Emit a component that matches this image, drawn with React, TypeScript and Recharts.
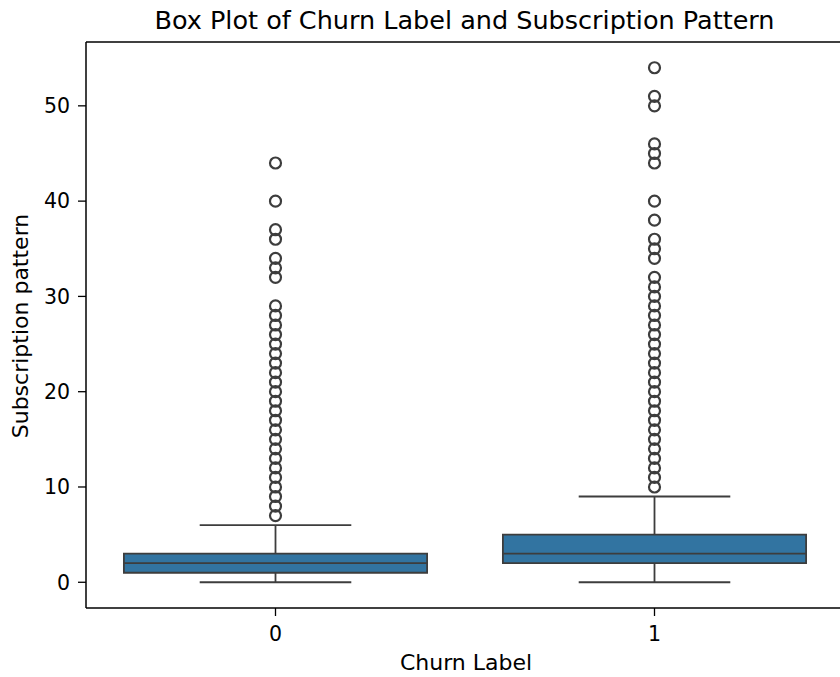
import React from 'react';
import {
  ComposedChart,
  Scatter,
  XAxis,
  YAxis,
  ReferenceArea,
  ReferenceLine,
} from 'recharts';

// Churn label categories and the box statistics per category
const categories = [0, 1];
const whiskerLow = [0, 0];
const q1 = [1, 2];
const median = [2, 3];
const q3 = [3, 5];
const whiskerHigh = [6, 9];

// Outlier values (beyond 1.5 IQR) per category
const outliers0 = [
  7, 8, 9, 10, 11, 12, 13, 14, 15, 16, 17, 18, 19, 20, 21, 22, 23, 24, 25, 26, 27, 28, 29,
  32, 33, 34, 36, 37, 40, 44,
];
const outliers1 = [
  10, 11, 12, 13, 14, 15, 16, 17, 18, 19, 20, 21, 22, 23, 24, 25, 26, 27, 28, 29, 30, 31, 32,
  34, 35, 36, 38, 40, 44, 45, 46, 50, 51, 54,
];

const yTicks = [0, 10, 20, 30, 40, 50];
const yDomain: [number, number] = [-2.7, 56.7];
const xDomain: [number, number] = [-0.5, 1.5];

const BOX_FILL = '#3274a1';
const LINE = '#3d3d3d';
const FONT = '"DejaVu Sans", sans-serif';
const LW = 1.8;

const outlierPoints = [
  ...outliers0.map((v) => ({ x: categories[0], y: v })),
  ...outliers1.map((v) => ({ x: categories[1], y: v })),
];

const HollowCircle = (props: any) => {
  const { cx, cy } = props;
  if (cx == null || cy == null) return null;
  return <circle cx={cx} cy={cy} r={5.5} fill="none" stroke={LINE} strokeWidth={2.2} />;
};

const tickStyle = { fill: '#000', fontSize: 20.5, fontFamily: FONT };

export default function App() {
  return (
    <div
      style={{
        position: 'fixed',
        left: 0,
        top: 0,
        width: 840,
        height: 677,
        overflow: 'hidden',
        background: '#fff',
        fontFamily: FONT,
      }}
    >
      <ComposedChart
        width={850}
        height={677}
        margin={{ top: 42, right: 6, bottom: 0, left: 0 }}
      >
        <XAxis
          type="number"
          dataKey="x"
          domain={xDomain}
          ticks={categories}
          allowDataOverflow
          height={69}
          tickSize={8}
          tickMargin={10}
          tick={tickStyle}
          tickLine={{ stroke: '#000', strokeWidth: 1.3 }}
          axisLine={{ stroke: '#000', strokeWidth: 1.5 }}
        />
        <YAxis
          type="number"
          dataKey="y"
          domain={yDomain}
          ticks={yTicks}
          allowDataOverflow
          width={86}
          tickSize={8}
          tickMargin={8}
          tick={tickStyle}
          tickLine={{ stroke: '#000', strokeWidth: 1.3 }}
          axisLine={{ stroke: '#000', strokeWidth: 1.5 }}
        />

        {/* top spine */}
        <ReferenceLine y={yDomain[1]} stroke="#000" strokeWidth={1.5} />

        {categories.map((c, i) => (
          <React.Fragment key={c}>
            {/* whiskers */}
            <ReferenceLine
              segment={[{ x: c, y: whiskerLow[i] }, { x: c, y: q1[i] }]}
              stroke={LINE}
              strokeWidth={LW}
            />
            <ReferenceLine
              segment={[{ x: c, y: q3[i] }, { x: c, y: whiskerHigh[i] }]}
              stroke={LINE}
              strokeWidth={LW}
            />
            {/* caps */}
            <ReferenceLine
              segment={[{ x: c - 0.2, y: whiskerLow[i] }, { x: c + 0.2, y: whiskerLow[i] }]}
              stroke={LINE}
              strokeWidth={LW}
            />
            <ReferenceLine
              segment={[{ x: c - 0.2, y: whiskerHigh[i] }, { x: c + 0.2, y: whiskerHigh[i] }]}
              stroke={LINE}
              strokeWidth={LW}
            />
            {/* box */}
            <ReferenceArea
              x1={c - 0.4}
              x2={c + 0.4}
              y1={q1[i]}
              y2={q3[i]}
              fill={BOX_FILL}
              fillOpacity={1}
              stroke={LINE}
              strokeWidth={LW}
            />
            {/* median */}
            <ReferenceLine
              segment={[{ x: c - 0.4, y: median[i] }, { x: c + 0.4, y: median[i] }]}
              stroke={LINE}
              strokeWidth={LW}
            />
          </React.Fragment>
        ))}

        <Scatter
          data={outlierPoints}
          dataKey="y"
          shape={<HollowCircle />}
          isAnimationActive={false}
        />
      </ComposedChart>

      <svg
        width={840}
        height={677}
        style={{ position: 'absolute', left: 0, top: 0, pointerEvents: 'none' }}
      >
        <text x={464.5} y={29} textAnchor="middle" fontSize={25.5} fontFamily={FONT} fill="#000">
          Box Plot of Churn Label and Subscription Pattern
        </text>
        <text x={466} y={670} textAnchor="middle" fontSize={22} fontFamily={FONT} fill="#000">
          Churn Label
        </text>
        <text
          x={28}
          y={326}
          textAnchor="middle"
          fontSize={22}
          fontFamily={FONT}
          fill="#000"
          transform="rotate(-90, 28, 326)"
        >
          Subscription pattern
        </text>
      </svg>
    </div>
  );
}
